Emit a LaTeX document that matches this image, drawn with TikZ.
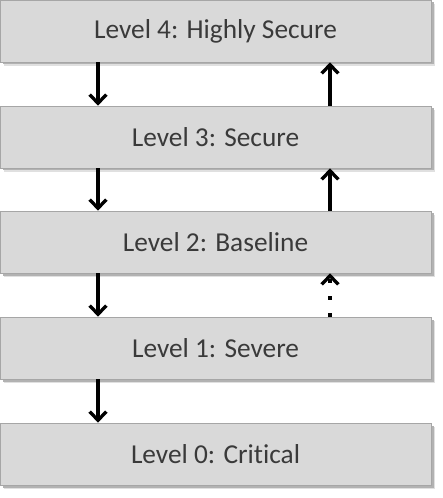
\documentclass[tikz,border=0pt]{standalone}
\usepackage{fontspec}
\setmainfont{Carlito}[Ligatures=NoCommon]
\usetikzlibrary{arrows.meta}
\definecolor{boxfill}{HTML}{D9D9D9}
\definecolor{boxline}{HTML}{A6A6A6}
\definecolor{txt}{HTML}{3A3A3A}
\begin{document}
\begin{tikzpicture}[x=0.75pt,y=-0.75pt,
  level/.style={rectangle, fill=boxfill, draw=boxline, line width=0.5pt,
    minimum width=323.25pt, minimum height=46.5pt, inner sep=0pt,
    text=txt, font=\fontsize{20.5}{24}\selectfont},
  arr/.style={line width=2.5pt, line cap=butt, -{Straight Barb[length=6.5pt,width=12.5pt,line width=2.5pt]}},
  dotarr/.style={arr, dash pattern=on 2.5pt off 10.2pt}]
\useasboundingbox (0,0) rectangle (442,498);
% shadows
\foreach \t in {0,106,211,317,423}{
  \fill[black!12] (4,\t+4) rectangle (435,\t+66);
  \fill[black!30] (2.5,\t+2.5) rectangle (433.5,\t+64.5);
}
\node[level] (l4) at (215.5,31) {Level 4: Highly Secure};
\node[level] (l3) at (215.5,137) {Level 3: Secure};
\node[level] (l2) at (215.5,242) {Level 2: Baseline};
\node[level] (l1) at (215.5,348) {Level 1: Severe};
\node[level] (l0) at (215.5,454) {Level 0: Critical};
\coordinate (ax) at (98,0);
\coordinate (bx) at (330,0);
\draw[arr] (l4.south -| ax) -- (l3.north -| ax);
\draw[arr] (l3.south -| ax) -- (l2.north -| ax);
\draw[arr] (l2.south -| ax) -- (l1.north -| ax);
\draw[arr] (l1.south -| ax) -- (l0.north -| ax);
\draw[arr] (l3.north -| bx) -- (l4.south -| bx);
\draw[arr] (l2.north -| bx) -- (l3.south -| bx);
\draw[dotarr] (l1.north -| bx) -- (l2.south -| bx);
\end{tikzpicture}
\end{document}
